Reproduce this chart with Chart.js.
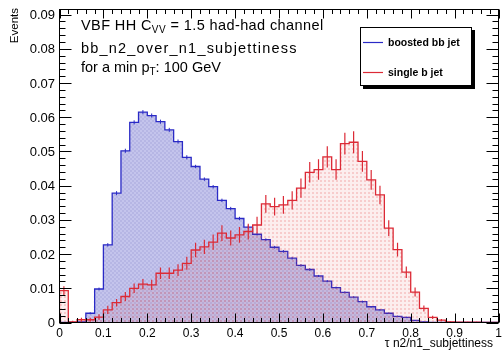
<!DOCTYPE html>
<html>
<head>
<meta charset="utf-8">
<script src="https://cdn.jsdelivr.net/npm/chart.js@4.4.0/dist/chart.umd.min.js"></script>
<style>
  body { margin: 0; background: #fff; }
  #wrap { position: relative; width: 503px; height: 351px; }
</style>
</head>
<body>
<div id="wrap"><canvas id="hist" width="503" height="351"></canvas></div>
<script>
const BIN_WIDTH = 0.02;
const N_BINS = 50;

// bin contents, 0 -> 1 in steps of 0.02
const boostedBB = [
  0, 0, 0.0002, 0.0027, 0.0098, 0.0227, 0.0378, 0.0502, 0.0585, 0.0615,
  0.0605, 0.0587, 0.0563, 0.0529, 0.0483, 0.0456, 0.0419, 0.0397, 0.0357, 0.0333,
  0.0304, 0.0279, 0.0258, 0.0242, 0.0220, 0.0208, 0.0188, 0.0167, 0.0155, 0.0136,
  0.0121, 0.0102, 0.0088, 0.0074, 0.0061, 0.0046, 0.0037, 0.0027, 0.0018, 0.0015,
  0.0006, 0.0002, 0, 0, 0, 0, 0, 0, 0, 0
];
const boostedBBErr = [
  0, 0, 0.0001, 0.0003, 0.0004, 0.0005, 0.0006, 0.0006, 0.0006, 0.0006,
  0.0006, 0.0006, 0.0006, 0.0006, 0.0006, 0.0005, 0.0005, 0.0005, 0.0005, 0.0005,
  0.0005, 0.0005, 0.0004, 0.0004, 0.0004, 0.0004, 0.0004, 0.0004, 0.0004, 0.0003,
  0.0003, 0.0003, 0.0003, 0.0003, 0.0003, 0.0002, 0.0002, 0.0002, 0.0002, 0.0002,
  0.0001, 0.0001, 0, 0, 0, 0, 0, 0, 0, 0
];
const singleB = [
  0.0093, 0.0002, 0.0008, 0.0008, 0.0016, 0.0037, 0.0058, 0.0076, 0.0100, 0.0112,
  0.0110, 0.0144, 0.0144, 0.0153, 0.0173, 0.0212, 0.0221, 0.0235, 0.0261, 0.0247,
  0.0256, 0.0266, 0.0285, 0.0347, 0.0339, 0.0344, 0.0357, 0.0393, 0.0439, 0.0447,
  0.0484, 0.0447, 0.0523, 0.0527, 0.0471, 0.0417, 0.0373, 0.0276, 0.0213, 0.0147,
  0.0089, 0.0041, 0.0015, 0.0007, 0.0002, 0.0001, 0.0001, 0.0001, 0, 0
];
const singleBErr = [
  0.0013, 0.0003, 0.0006, 0.0006, 0.0008, 0.0012, 0.0011, 0.0013, 0.0014, 0.0015,
  0.0015, 0.0017, 0.0017, 0.0017, 0.0019, 0.0021, 0.0021, 0.0022, 0.0023, 0.0022,
  0.0023, 0.0023, 0.0024, 0.0026, 0.0026, 0.0026, 0.0027, 0.0028, 0.0030, 0.0030,
  0.0031, 0.0030, 0.0032, 0.0032, 0.0030, 0.0029, 0.0027, 0.0023, 0.0020, 0.0017,
  0.0013, 0.0009, 0.0005, 0.0003, 0.0002, 0.0001, 0.0001, 0.0001, 0, 0
];

const xTicks = [0, 0.1, 0.2, 0.3, 0.4, 0.5, 0.6, 0.7, 0.8, 0.9, 1];
const xTickLabels = ['0', '0.1', '0.2', '0.3', '0.4', '0.5', '0.6', '0.7', '0.8', '0.9', '1'];
const yTicks = [0, 0.01, 0.02, 0.03, 0.04, 0.05, 0.06, 0.07, 0.08, 0.09];
const yTickLabels = ['0', '0.01', '0.02', '0.03', '0.04', '0.05', '0.06', '0.07', '0.08', '0.09'];
const X_MINOR = 0.02;
const Y_MINOR = 0.002;
const Y_MAX = 0.0915;

const BLUE = '#2a2ac6';
const RED = '#dc2a36';
const FONT = '"Liberation Sans", Arial, Helvetica, sans-serif';

// turn bin contents into outline points for a stepped line
function stepPoints(values) {
  const pts = [{ x: 0, y: 0 }];
  values.forEach((v, i) => pts.push({ x: i * BIN_WIDTH, y: v }));
  pts.push({ x: N_BINS * BIN_WIDTH, y: values[values.length - 1] });
  pts.push({ x: N_BINS * BIN_WIDTH, y: 0 });
  return pts;
}

function makePattern(base, dot, checker) {
  const c = document.createElement('canvas');
  c.width = 4;
  c.height = 4;
  const g = c.getContext('2d');
  g.fillStyle = base;
  g.fillRect(0, 0, 4, 4);
  g.fillStyle = dot;
  g.fillRect(0, 0, 2, 2);
  if (checker) g.fillRect(2, 2, 2, 2);
  return g.createPattern(c, 'repeat');
}

const errorBars = {
  id: 'errorBars',
  afterDatasetDraw(chart, args) {
    const ds = chart.data.datasets[args.index];
    if (!ds.errors) return;
    const { ctx, chartArea: a, scales: { x, y } } = chart;
    ctx.save();
    ctx.beginPath();
    ctx.rect(a.left, a.top, a.right - a.left, a.bottom - a.top);
    ctx.clip();
    ctx.strokeStyle = ds.borderColor;
    ctx.lineWidth = ds.errWidth;
    ctx.beginPath();
    ds.values.forEach((v, i) => {
      const e = ds.errors[i];
      if (!e) return;
      const px = x.getPixelForValue((i + 0.5) * BIN_WIDTH);
      ctx.moveTo(px, y.getPixelForValue(v - e));
      ctx.lineTo(px, y.getPixelForValue(v + e));
    });
    ctx.stroke();
    ctx.restore();
  }
};

function drawSubText(ctx, parts, x0, y0, spacing) {
  let cx = x0;
  ctx.letterSpacing = (spacing || 0) + 'px';
  parts.forEach(p => {
    ctx.font = p.size + 'px ' + FONT;
    ctx.fillText(p.t, cx, y0 + (p.dy || 0));
    cx += ctx.measureText(p.t).width;
  });
  ctx.letterSpacing = '0px';
}

const frameAndText = {
  id: 'frameAndText',
  afterDraw(chart) {
    const { ctx, chartArea: a, scales: { x, y } } = chart;
    ctx.save();
    ctx.strokeStyle = '#000';
    ctx.fillStyle = '#000';
    ctx.lineWidth = 1;
    ctx.strokeRect(a.left, a.top, a.right - a.left, a.bottom - a.top);

    // ticks on all four sides, pointing inwards
    ctx.beginPath();
    for (let k = 0; k <= Math.round(1 / X_MINOR); k++) {
      const px = Math.round(x.getPixelForValue(k * X_MINOR)) + 0.5;
      const len = k % 5 === 0 ? 9 : 4.5;
      ctx.moveTo(px, a.bottom); ctx.lineTo(px, a.bottom - len);
      ctx.moveTo(px, a.top); ctx.lineTo(px, a.top + len);
    }
    for (let k = 0; k * Y_MINOR <= Y_MAX; k++) {
      const py = Math.round(y.getPixelForValue(k * Y_MINOR)) + 0.5;
      const len = k % 5 === 0 ? 12 : 6;
      ctx.moveTo(a.left, py); ctx.lineTo(a.left + len, py);
      ctx.moveTo(a.right, py); ctx.lineTo(a.right - len, py);
    }
    ctx.stroke();

    // tick labels
    ctx.font = '12px ' + FONT;
    ctx.textAlign = 'center';
    ctx.textBaseline = 'alphabetic';
    xTicks.forEach((v, i) => ctx.fillText(xTickLabels[i], x.getPixelForValue(v), 337));
    ctx.font = '13px ' + FONT;
    ctx.textAlign = 'right';
    ctx.textBaseline = 'middle';
    yTicks.forEach((v, i) => ctx.fillText(yTickLabels[i], 55, y.getPixelForValue(v) + 1));

    // axis titles
    ctx.font = '12px ' + FONT;
    ctx.textBaseline = 'alphabetic';
    ctx.fillText('\u03c4 n2/n1_subjettiness', 493, 346.5);
    ctx.save();
    ctx.translate(18, 8);
    ctx.rotate(-Math.PI / 2);
    ctx.font = '11.5px ' + FONT;
    ctx.textAlign = 'right';
    ctx.fillText('Events', 0, 0);
    ctx.restore();

    // annotation text
    ctx.textAlign = 'left';
    drawSubText(ctx, [
      { t: 'VBF HH C', size: 14.5 },
      { t: 'VV', size: 10, dy: 3 },
      { t: ' = 1.5 had-had channel', size: 14.5 }
    ], 81, 30, 0.4);
    drawSubText(ctx, [{ t: 'bb_n2_over_n1_subjettiness', size: 14.5 }], 81, 53, 1.2);
    drawSubText(ctx, [
      { t: 'for a min p', size: 14.5 },
      { t: 'T', size: 10, dy: 3 },
      { t: ': 100 GeV', size: 14.5 }
    ], 81, 72, 0);

    // legend box with shadow
    ctx.fillStyle = '#000';
    ctx.fillRect(363, 30, 112, 59);
    ctx.fillStyle = '#fff';
    ctx.fillRect(360, 27, 112, 59);
    ctx.strokeStyle = '#000';
    ctx.strokeRect(360.5, 27.5, 111, 58);
    ctx.lineWidth = 1.2;
    ctx.strokeStyle = BLUE;
    ctx.beginPath(); ctx.moveTo(363, 42.5); ctx.lineTo(383, 42.5); ctx.stroke();
    ctx.strokeStyle = RED;
    ctx.beginPath(); ctx.moveTo(363, 72.5); ctx.lineTo(383, 72.5); ctx.stroke();
    ctx.fillStyle = '#000';
    ctx.font = 'bold 10.5px ' + FONT;
    ctx.textBaseline = 'middle';
    ctx.fillText('boosted bb jet', 388, 43);
    ctx.fillText('single b jet', 388, 73);
    ctx.restore();
  }
};

const ctx = document.getElementById('hist').getContext('2d');
new Chart(ctx, {
  type: 'line',
  data: {
    datasets: [
      {
        label: 'boosted bb jet',
        data: stepPoints(boostedBB),
        values: boostedBB,
        errors: boostedBBErr,
        errWidth: 1,
        borderColor: BLUE,
        borderWidth: 1.3,
        backgroundColor: makePattern('#c4c4ec', '#b6b6e4', true),
        fill: 'origin',
        stepped: true,
        pointRadius: 0,
        order: 2
      },
      {
        label: 'single b jet',
        data: stepPoints(singleB),
        values: singleB,
        errors: singleBErr,
        errWidth: 1.2,
        borderColor: RED,
        borderWidth: 1.3,
        backgroundColor: makePattern('rgba(225,70,70,0.09)', 'rgba(225,70,70,0.2)', false),
        fill: 'origin',
        stepped: true,
        pointRadius: 0,
        order: 1
      }
    ]
  },
  options: {
    responsive: false,
    animation: false,
    devicePixelRatio: 1,
    layout: { padding: { left: 59.5, right: 4.5, top: 9.5, bottom: 28.5 } },
    plugins: { legend: { display: false }, tooltip: { enabled: false } },
    scales: {
      x: { type: 'linear', min: 0, max: 1, display: false },
      y: { type: 'linear', min: 0, max: Y_MAX, display: false }
    }
  },
  plugins: [errorBars, frameAndText]
});
</script>
</body>
</html>
